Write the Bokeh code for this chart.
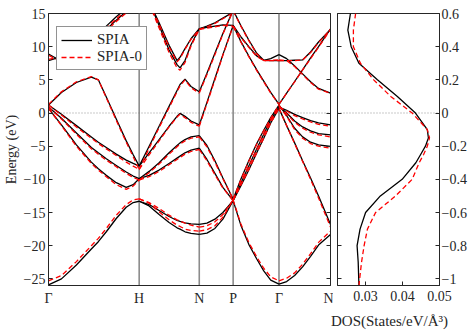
from bokeh.plotting import figure
from bokeh.layouts import row, column
from bokeh.models import Range1d, Span, FixedTicker, Legend, LegendItem, Label, LinearAxis
from bokeh.embed import file_html
from bokeh.resources import INLINE

FONT = "Liberation Serif"

# ---------------- k-path ----------------
k_nodes = [0.0, 0.91, 1.513, 1.853, 2.313, 2.83]
k_labels = ["Γ", "H", "N", "P", "Γ", "N"]

# ---------------- bands, segment by segment (energies in eV) ----------------
gh_k = [0.0, 0.13, 0.28, 0.43, 0.50, 0.58, 0.68, 0.78, 0.85, 0.91]
gh_spia = [
    [-25.9, -25.0, -22.9, -20.5, -19.4, -17.9, -15.9, -14.2, -13.5, -13.3],
    [0.7, -1.8, -4.8, -7.4, -8.4, -9.4, -10.5, -11.2, -10.8, -9.9],
    [0.9, -0.8, -3.0, -5.2, -6.0, -6.9, -7.9, -8.9, -9.5, -9.9],
    [1.2, -0.2, -1.9, -3.6, -4.4, -5.2, -6.2, -7.1, -7.6, -8.0],
    [1.2, 3.1, 4.6, 5.4, 5.0, 2.4, -0.9, -4.2, -6.3, -8.0],
    [8.9, 7.8, 8.2, 10.4, 11.9, 13.1, 14.5, 15.8, 16.8, 17.6],
    [7.9, 8.5, 8.9, 10.2, 11.4, 12.6, 14.0, 15.3, 16.3, 17.1],
]
gh_spia0 = [
    [-25.3, -24.5, -22.4, -20.0, -18.9, -17.4, -15.4, -13.8, -13.1, -12.95],
    [0.7, -1.9, -5.0, -7.6, -8.6, -9.6, -10.8, -11.5, -11.0, -10.1],
    [0.9, -0.9, -3.2, -5.4, -6.2, -7.1, -8.1, -9.1, -9.7, -10.1],
    [1.2, -0.3, -2.1, -3.8, -4.6, -5.4, -6.4, -7.4, -8.0, -8.5],
    [1.3, 3.2, 4.7, 5.5, 5.0, 2.3, -1.1, -4.4, -6.6, -8.5],
    [8.7, 7.7, 8.0, 10.2, 11.6, 12.8, 14.2, 15.5, 16.5, 17.3],
    [8.1, 8.5, 8.8, 10.0, 11.2, 12.4, 13.8, 15.1, 16.1, 16.9],
]

hn_k = [0.91, 1.01, 1.11, 1.21, 1.29, 1.32, 1.37, 1.43, 1.513]
hn_spia = [
    [-13.3, -14.0, -15.3, -16.5, -17.3, -17.5, -17.9, -18.15, -18.3],
    [-13.3, -13.8, -14.7, -15.6, -16.2, -16.35, -16.55, -16.7, -16.8],
    [-9.9, -9.4, -8.6, -7.6, -6.8, -6.5, -6.0, -5.6, -5.3],
    [-9.9, -8.8, -7.5, -6.0, -4.9, -4.5, -4.0, -3.6, -3.4],
    [-8.0, -6.0, -4.0, -2.0, -0.5, -0.05, -0.5, -1.2, -1.8],
    [-8.0, -5.0, -2.0, 1.0, 3.4, 4.3, 5.1, 4.0, 3.2],
    [20.0, 16.8, 13.6, 10.2, 7.9, 8.4, 9.7, 11.2, 12.7],
    [20.0, 16.8, 13.2, 9.5, 7.3, 6.8, 7.9, 10.3, 12.7],
]
hn_spia0 = [
    [-12.95, -13.6, -14.9, -16.1, -16.9, -17.1, -17.5, -17.7, -17.8],
    [-12.95, -13.5, -14.4, -15.4, -16.1, -16.3, -16.6, -16.9, -17.2],
    [-10.1, -9.6, -8.8, -7.8, -7.0, -6.7, -6.2, -5.8, -5.5],
    [-10.1, -9.0, -7.7, -6.2, -5.1, -4.7, -4.2, -3.8, -3.6],
    [-8.5, -6.3, -4.2, -2.1, -0.6, -0.2, -0.7, -1.4, -2.0],
    [-8.5, -5.3, -2.2, 0.8, 3.2, 4.1, 5.0, 3.8, 3.0],
    [19.8, 16.6, 13.4, 10.0, 7.7, 8.2, 9.6, 11.1, 12.6],
    [19.8, 16.5, 12.8, 9.1, 6.8, 6.45, 7.6, 10.1, 12.6],
]

np_k = [1.513, 1.59, 1.67, 1.75, 1.853]
np_spia = [
    [-18.3, -18.1, -17.4, -16.0, -13.2],
    [-16.8, -16.6, -16.0, -15.0, -13.2],
    [-5.3, -7.0, -9.1, -11.2, -13.2],
    [-3.4, -4.9, -7.2, -9.8, -13.0],
    [-1.8, 1.6, 5.2, 8.8, 13.2],
    [3.2, 6.0, 9.0, 12.0, 15.5],
    [12.7, 12.9, 13.1, 13.3, 13.2],
    [12.7, 13.1, 13.6, 14.3, 15.2],
]
np_spia0 = [
    [-17.8, -17.6, -17.0, -15.7, -13.1],
    [-17.2, -17.0, -16.4, -15.3, -13.1],
    [-5.5, -7.2, -9.3, -11.3, -13.2],
    [-3.6, -5.1, -7.4, -9.9, -13.0],
    [-2.0, 1.4, 5.0, 8.7, 13.1],
    [3.0, 5.8, 8.8, 11.9, 15.4],
    [12.6, 12.8, 13.0, 13.2, 13.1],
    [12.6, 13.0, 13.5, 14.2, 15.1],
]

pg_k = [1.853, 1.93, 2.01, 2.09, 2.16, 2.23, 2.313]
pg_spia = [
    [-13.2, -16.9, -19.8, -22.0, -23.8, -25.2, -25.8],
    [-13.2, -11.0, -8.6, -6.0, -3.8, -1.5, 0.7],
    [-13.2, -10.6, -8.0, -5.4, -3.2, -1.0, 0.9],
    [-13.0, -10.0, -7.2, -4.6, -2.6, -0.7, 1.2],
    [13.2, 10.8, 8.6, 6.5, 4.8, 3.1, 1.3],
    [15.5, 13.2, 11.0, 9.0, 7.95, 7.9, 7.9],
    [13.2, 11.5, 10.0, 8.6, 7.95, 8.2, 8.8],
]
pg_spia0 = [
    [-13.1, -16.7, -19.5, -21.7, -23.4, -24.7, -25.3],
    [-13.1, -10.9, -8.5, -6.0, -3.8, -1.5, 0.7],
    [-13.2, -10.6, -8.0, -5.5, -3.3, -1.1, 0.9],
    [-13.0, -10.1, -7.3, -4.7, -2.7, -0.8, 1.2],
    [13.1, 10.7, 8.5, 6.4, 4.7, 3.0, 1.3],
    [15.4, 13.1, 10.9, 8.9, 7.9, 7.9, 7.9],
    [13.1, 11.4, 9.9, 8.5, 7.9, 7.95, 8.0],
]

gn_k = [2.313, 2.39, 2.47, 2.55, 2.63, 2.71, 2.83]
gn_spia = [
    [-25.8, -25.4, -24.5, -23.2, -21.6, -19.9, -18.3],
    [0.7, -1.9, -4.5, -7.2, -9.8, -12.5, -16.8],
    [0.9, 0.4, -0.2, -0.7, -1.15, -1.5, -1.8],
    [1.0, 0.0, -1.2, -2.1, -2.7, -3.1, -3.3],
    [1.2, -0.4, -2.3, -3.6, -4.4, -4.8, -5.05],
    [1.3, 3.0, 4.75, 6.5, 8.3, 10.0, 12.7],
    [7.9, 7.9, 7.95, 8.0, 9.2, 10.7, 12.6],
    [8.8, 8.2, 7.1, 5.9, 4.7, 3.7, 3.0],
]
gn_spia0 = [
    [-25.3, -24.9, -24.1, -22.8, -21.2, -19.5, -17.8],
    [0.7, -1.9, -4.6, -7.3, -10.0, -12.8, -17.2],
    [0.9, 0.3, -0.4, -0.9, -1.35, -1.7, -2.0],
    [1.0, -0.1, -1.4, -2.3, -2.9, -3.3, -3.6],
    [1.2, -0.5, -2.5, -3.8, -4.6, -5.0, -5.3],
    [1.3, 3.0, 4.7, 6.5, 8.2, 9.9, 12.6],
    [7.9, 7.9, 7.9, 8.0, 9.1, 10.6, 12.6],
    [8.0, 7.9, 7.0, 5.8, 4.6, 3.6, 2.95],
]

# ---------------- DOS ----------------
dos_E = [0.6, 0.5, 0.4, 0.3, 0.2, 0.1, 0.0, -0.1, -0.15, -0.2, -0.25, -0.3,
         -0.4, -0.5, -0.6, -0.7, -0.8, -0.9, -1.04]
dos_spia = [0.0259, 0.0252, 0.0261, 0.0282, 0.0332, 0.0386, 0.0435, 0.0467, 0.0470,
            0.0462, 0.0449, 0.0436, 0.0399, 0.0340, 0.0300, 0.0285, 0.0277, 0.0280, 0.0282]
dos_spia0 = [0.0273, 0.0267, 0.0267, 0.0286, 0.0322, 0.0368, 0.0426, 0.0467, 0.0473,
             0.0467, 0.0457, 0.0445, 0.0426, 0.0381, 0.0327, 0.0305, 0.0296, 0.0289, 0.0282]

e_ticks = [-25, -20, -15, -10, -5, 0, 5, 10, 15]
dos_y_ticks = [-1.0, -0.8, -0.6, -0.4, -0.2, 0.0, 0.2, 0.4, 0.6]
dos_x_ticks = [0.03, 0.04, 0.05]

BOX = "#262626"
GREY = "#8c8c8c"
TOP_H = 308


def mirror_axis(fig, side, ticks):
    ax = LinearAxis(ticker=FixedTicker(ticks=ticks),
                    major_label_overrides={t: "" for t in ticks})
    ax.major_tick_in = 4
    ax.major_tick_out = 0
    ax.minor_tick_line_color = None
    ax.major_label_standoff = 0
    ax.axis_line_color = BOX
    ax.major_tick_line_color = BOX
    fig.add_layout(ax, side)


# ---------------- left figure: bands ----------------
p = figure(width=333, height=TOP_H, x_range=Range1d(k_nodes[0], k_nodes[-1]),
           y_range=Range1d(-26, 15), output_backend="svg", toolbar_location=None,
           min_border_left=47, min_border_right=3, min_border_top=13, min_border_bottom=21)
p.grid.visible = False
p.outline_line_color = BOX
p.outline_line_width = 1

for kn in k_nodes[1:-1]:
    p.add_layout(Span(location=kn, dimension="height", line_color=GREY, line_width=1.6, level="underlay"))
p.add_layout(Span(location=0, dimension="width", line_color="#777777", line_width=0.8,
                  line_dash="1 2", level="underlay"))

segments = [(gh_k, gh_spia, gh_spia0), (hn_k, hn_spia, hn_spia0), (np_k, np_spia, np_spia0),
            (pg_k, pg_spia, pg_spia0), (gn_k, gn_spia, gn_spia0)]
xs_b, ys_b, xs_r, ys_r = [], [], [], []
for kk, bl, rd in segments:
    for e in bl:
        xs_b.append(kk)
        ys_b.append(e)
    for e in rd:
        xs_r.append(kk)
        ys_r.append(e)

rb = p.multi_line(xs_b, ys_b, line_color="black", line_width=1.3)
rr = p.multi_line(xs_r, ys_r, line_color="#ff0000", line_width=1.3, line_dash="5 3")

p.xaxis.ticker = FixedTicker(ticks=k_nodes)
p.xaxis.major_label_overrides = {kn: lab for kn, lab in zip(k_nodes, k_labels)}
p.xaxis.major_tick_in = 0
p.xaxis.major_tick_out = 0
p.xaxis.minor_tick_line_color = None
p.yaxis.ticker = FixedTicker(ticks=e_ticks)
p.yaxis.major_tick_in = 4
p.yaxis.major_tick_out = 0
p.yaxis.minor_tick_line_color = None
p.yaxis.axis_label = "Energy (eV)"
p.yaxis.axis_label_standoff = 2
p.yaxis.major_label_standoff = 3
for ax in [p.xaxis[0], p.yaxis[0]]:
    ax.axis_line_color = BOX
    ax.major_tick_line_color = BOX
    ax.major_label_text_font = FONT
    ax.major_label_text_font_size = "14px"
    ax.major_label_text_color = "#262626"
    ax.axis_label_text_font = FONT
    ax.axis_label_text_font_size = "14px"
    ax.axis_label_text_font_style = "normal"
    ax.axis_label_text_color = "#262626"
p.xaxis.major_label_standoff = 5
mirror_axis(p, "right", e_ticks)

legend = Legend(items=[LegendItem(label="SPIA", renderers=[rb]),
                       LegendItem(label="SPIA-0", renderers=[rr])],
                location=(8, 215))
legend.label_text_font = FONT
legend.label_text_font_size = "15px"
legend.label_text_color = "#262626"
legend.border_line_color = BOX
legend.border_line_width = 1
legend.background_fill_alpha = 1.0
legend.padding = 4
legend.spacing = 0
legend.margin = 0
legend.glyph_width = 31
legend.glyph_height = 14
legend.label_height = 14
legend.label_standoff = 5
p.add_layout(legend)

# ---------------- right figure: DOS ----------------
q = figure(width=136, height=TOP_H, x_range=Range1d(0.0224, 0.05),
           y_range=Range1d(-1.04, 0.6), y_axis_location="right",
           output_backend="svg", toolbar_location=None,
           min_border_left=4, min_border_right=26, min_border_top=13, min_border_bottom=21)
q.grid.visible = False
q.outline_line_color = BOX
q.outline_line_width = 1
q.add_layout(Span(location=0, dimension="width", line_color="#777777", line_width=0.8,
                  line_dash="1 2", level="underlay"))
q.line(dos_spia, dos_E, line_color="black", line_width=1.3)
q.line(dos_spia0, dos_E, line_color="#ff0000", line_width=1.3, line_dash="5 3")

q.xaxis.ticker = FixedTicker(ticks=dos_x_ticks)
q.yaxis.ticker = FixedTicker(ticks=dos_y_ticks)
for ax in [q.xaxis[0], q.yaxis[0]]:
    ax.major_tick_in = 4
    ax.major_tick_out = 0
    ax.minor_tick_line_color = None
    ax.axis_line_color = BOX
    ax.major_tick_line_color = BOX
    ax.major_label_text_font = FONT
    ax.major_label_text_font_size = "14px"
    ax.major_label_text_color = "#262626"
    ax.major_label_standoff = 3
q.yaxis.major_label_standoff = 2
q.xaxis.major_label_standoff = 5
mirror_axis(q, "left", dos_y_ticks)

# ---------------- strip below holding the DOS axis title ----------------
s = figure(width=469, height=330 - TOP_H, x_range=Range1d(0, 469), y_range=Range1d(0, 330 - TOP_H),
           output_backend="svg", toolbar_location=None, x_axis_location=None, y_axis_location=None,
           min_border=0)
s.grid.visible = False
s.outline_line_color = None
s.add_layout(Label(x=389, y=10, text="DOS(States/eV/Å³)", text_align="center",
                   text_baseline="middle", text_font=FONT, text_font_size="15px",
                   text_color="#262626"))

layout = column(row(p, q, spacing=0), s, spacing=0)
open("out.html", "w").write(file_html(layout, INLINE))
